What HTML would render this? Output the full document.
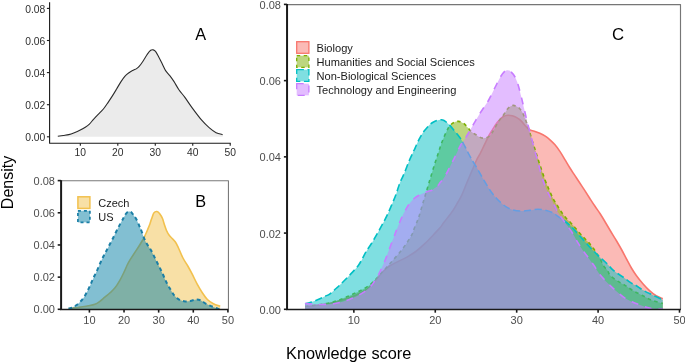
<!DOCTYPE html>
<html><head><meta charset="utf-8"><style>
html,body{margin:0;padding:0;background:#fff;width:685px;height:363px;overflow:hidden}
svg{display:block;will-change:transform;font-family:"Liberation Sans",sans-serif}
</style></head><body>
<svg width="685" height="363" viewBox="0 0 685 363">
<rect width="685" height="363" fill="#fff"/>
<path d="M57.80,136.30C58.72,136.17 61.47,135.78 63.30,135.50C65.13,135.22 66.97,135.07 68.80,134.60C70.63,134.13 72.47,133.42 74.30,132.70C76.13,131.98 77.97,131.22 79.80,130.30C81.63,129.38 83.70,128.23 85.30,127.20C86.90,126.17 88.03,125.42 89.40,124.10C90.77,122.78 92.12,120.85 93.50,119.30C94.88,117.75 96.05,116.52 97.70,114.80C99.35,113.08 101.63,111.12 103.40,109.00C105.17,106.88 106.80,104.28 108.30,102.10C109.80,99.92 111.02,98.08 112.40,95.90C113.78,93.72 115.22,91.30 116.60,89.00C117.98,86.70 119.33,84.22 120.70,82.10C122.07,79.98 123.42,77.87 124.80,76.30C126.18,74.73 127.62,73.70 129.00,72.70C130.38,71.70 131.83,70.98 133.10,70.30C134.37,69.62 135.52,69.33 136.60,68.60C137.68,67.87 138.48,67.22 139.60,65.90C140.72,64.58 142.00,62.67 143.30,60.70C144.60,58.73 146.17,55.83 147.40,54.10C148.63,52.37 149.73,51.00 150.70,50.30C151.67,49.60 152.37,49.68 153.20,49.90C154.03,50.12 154.73,50.35 155.70,51.60C156.67,52.85 157.90,55.33 159.00,57.40C160.10,59.47 161.20,61.80 162.30,64.00C163.40,66.20 164.35,68.67 165.60,70.60C166.85,72.53 168.42,73.80 169.80,75.60C171.18,77.40 172.38,79.05 173.90,81.40C175.42,83.75 177.10,87.08 178.90,89.70C180.70,92.32 182.52,94.12 184.70,97.10C186.88,100.08 189.17,103.75 192.00,107.60C194.83,111.45 198.80,116.82 201.70,120.20C204.60,123.58 207.00,125.82 209.40,127.90C211.80,129.98 213.90,131.58 216.10,132.70C218.30,133.82 221.52,134.28 222.60,134.60L222.60,136.80L57.80,136.80Z" fill="#EBEBEB" stroke="none"/>
<path d="M57.80,136.30C58.72,136.17 61.47,135.78 63.30,135.50C65.13,135.22 66.97,135.07 68.80,134.60C70.63,134.13 72.47,133.42 74.30,132.70C76.13,131.98 77.97,131.22 79.80,130.30C81.63,129.38 83.70,128.23 85.30,127.20C86.90,126.17 88.03,125.42 89.40,124.10C90.77,122.78 92.12,120.85 93.50,119.30C94.88,117.75 96.05,116.52 97.70,114.80C99.35,113.08 101.63,111.12 103.40,109.00C105.17,106.88 106.80,104.28 108.30,102.10C109.80,99.92 111.02,98.08 112.40,95.90C113.78,93.72 115.22,91.30 116.60,89.00C117.98,86.70 119.33,84.22 120.70,82.10C122.07,79.98 123.42,77.87 124.80,76.30C126.18,74.73 127.62,73.70 129.00,72.70C130.38,71.70 131.83,70.98 133.10,70.30C134.37,69.62 135.52,69.33 136.60,68.60C137.68,67.87 138.48,67.22 139.60,65.90C140.72,64.58 142.00,62.67 143.30,60.70C144.60,58.73 146.17,55.83 147.40,54.10C148.63,52.37 149.73,51.00 150.70,50.30C151.67,49.60 152.37,49.68 153.20,49.90C154.03,50.12 154.73,50.35 155.70,51.60C156.67,52.85 157.90,55.33 159.00,57.40C160.10,59.47 161.20,61.80 162.30,64.00C163.40,66.20 164.35,68.67 165.60,70.60C166.85,72.53 168.42,73.80 169.80,75.60C171.18,77.40 172.38,79.05 173.90,81.40C175.42,83.75 177.10,87.08 178.90,89.70C180.70,92.32 182.52,94.12 184.70,97.10C186.88,100.08 189.17,103.75 192.00,107.60C194.83,111.45 198.80,116.82 201.70,120.20C204.60,123.58 207.00,125.82 209.40,127.90C211.80,129.98 213.90,131.58 216.10,132.70C218.30,133.82 221.52,134.28 222.60,134.60" fill="none" stroke="#2b2b2b" stroke-width="1.1" stroke-linejoin="round"/>
<path d="M49.6,2.2V143.2H230.8" fill="none" stroke="#1a1a1a" stroke-width="1.1" stroke-linejoin="round"/>
<path d="M46.9,136.80H49.6" stroke="#1a1a1a" stroke-width="1.1"/>
<text x="45.3" y="141.40" text-anchor="end" font-size="10.3" fill="#2e2e2e">0.00</text>
<path d="M46.9,104.70H49.6" stroke="#1a1a1a" stroke-width="1.1"/>
<text x="45.3" y="109.30" text-anchor="end" font-size="10.3" fill="#2e2e2e">0.02</text>
<path d="M46.9,72.60H49.6" stroke="#1a1a1a" stroke-width="1.1"/>
<text x="45.3" y="77.20" text-anchor="end" font-size="10.3" fill="#2e2e2e">0.04</text>
<path d="M46.9,40.50H49.6" stroke="#1a1a1a" stroke-width="1.1"/>
<text x="45.3" y="45.10" text-anchor="end" font-size="10.3" fill="#2e2e2e">0.06</text>
<path d="M46.9,8.40H49.6" stroke="#1a1a1a" stroke-width="1.1"/>
<text x="45.3" y="13.00" text-anchor="end" font-size="10.3" fill="#2e2e2e">0.08</text>
<path d="M80.33,143.2V145.8" stroke="#1a1a1a" stroke-width="1.1"/>
<text x="80.33" y="155.6" text-anchor="middle" font-size="10.3" fill="#2e2e2e">10</text>
<path d="M117.80,143.2V145.8" stroke="#1a1a1a" stroke-width="1.1"/>
<text x="117.80" y="155.6" text-anchor="middle" font-size="10.3" fill="#2e2e2e">20</text>
<path d="M155.27,143.2V145.8" stroke="#1a1a1a" stroke-width="1.1"/>
<text x="155.27" y="155.6" text-anchor="middle" font-size="10.3" fill="#2e2e2e">30</text>
<path d="M192.74,143.2V145.8" stroke="#1a1a1a" stroke-width="1.1"/>
<text x="192.74" y="155.6" text-anchor="middle" font-size="10.3" fill="#2e2e2e">40</text>
<path d="M230.21,143.2V145.8" stroke="#1a1a1a" stroke-width="1.1"/>
<text x="230.21" y="155.6" text-anchor="middle" font-size="10.3" fill="#2e2e2e">50</text>
<text x="200.6" y="40.2" text-anchor="middle" font-size="16.3" fill="#000">A</text>
<path d="M68.90,308.60C70.08,308.47 74.15,308.05 76.00,307.80C77.85,307.55 77.95,307.43 80.00,307.10C82.05,306.77 85.82,306.27 88.30,305.80C90.78,305.33 92.97,305.05 94.90,304.30C96.83,303.55 98.25,302.48 99.90,301.30C101.55,300.12 103.15,298.58 104.80,297.20C106.45,295.82 108.13,294.52 109.80,293.00C111.47,291.48 113.15,290.17 114.80,288.10C116.45,286.03 118.18,283.22 119.70,280.60C121.22,277.98 122.65,275.00 123.90,272.40C125.15,269.80 126.18,267.08 127.20,265.00C128.22,262.92 128.95,261.65 130.00,259.90C131.05,258.15 132.38,256.22 133.50,254.50C134.62,252.78 135.62,251.27 136.70,249.60C137.78,247.93 138.85,246.35 140.00,244.50C141.15,242.65 142.68,240.17 143.60,238.50C144.52,236.83 144.83,235.97 145.50,234.50C146.17,233.03 146.87,231.45 147.60,229.70C148.33,227.95 149.23,225.82 149.90,224.00C150.57,222.18 150.93,220.65 151.60,218.80C152.27,216.95 153.02,214.12 153.90,212.90C154.78,211.68 155.90,211.33 156.90,211.50C157.90,211.67 158.97,212.73 159.90,213.90C160.83,215.07 161.78,216.82 162.50,218.50C163.22,220.18 163.53,222.00 164.20,224.00C164.87,226.00 165.70,228.67 166.50,230.50C167.30,232.33 168.08,233.70 169.00,235.00C169.92,236.30 170.97,237.17 172.00,238.30C173.03,239.43 174.20,240.38 175.20,241.80C176.20,243.22 176.75,244.18 178.00,246.80C179.25,249.42 181.07,254.30 182.70,257.50C184.33,260.70 186.23,263.27 187.80,266.00C189.37,268.73 190.53,270.88 192.10,273.90C193.67,276.92 195.50,280.97 197.20,284.10C198.90,287.23 200.60,290.13 202.30,292.70C204.00,295.27 205.55,297.65 207.40,299.50C209.25,301.35 211.27,302.67 213.40,303.80C215.53,304.93 219.07,305.88 220.20,306.30L220.20,309.30L68.90,309.30Z" fill="rgba(242,193,78,0.5)" stroke="none"/>
<path d="M68.90,308.60C70.08,308.47 74.15,308.05 76.00,307.80C77.85,307.55 77.95,307.43 80.00,307.10C82.05,306.77 85.82,306.27 88.30,305.80C90.78,305.33 92.97,305.05 94.90,304.30C96.83,303.55 98.25,302.48 99.90,301.30C101.55,300.12 103.15,298.58 104.80,297.20C106.45,295.82 108.13,294.52 109.80,293.00C111.47,291.48 113.15,290.17 114.80,288.10C116.45,286.03 118.18,283.22 119.70,280.60C121.22,277.98 122.65,275.00 123.90,272.40C125.15,269.80 126.18,267.08 127.20,265.00C128.22,262.92 128.95,261.65 130.00,259.90C131.05,258.15 132.38,256.22 133.50,254.50C134.62,252.78 135.62,251.27 136.70,249.60C137.78,247.93 138.85,246.35 140.00,244.50C141.15,242.65 142.68,240.17 143.60,238.50C144.52,236.83 144.83,235.97 145.50,234.50C146.17,233.03 146.87,231.45 147.60,229.70C148.33,227.95 149.23,225.82 149.90,224.00C150.57,222.18 150.93,220.65 151.60,218.80C152.27,216.95 153.02,214.12 153.90,212.90C154.78,211.68 155.90,211.33 156.90,211.50C157.90,211.67 158.97,212.73 159.90,213.90C160.83,215.07 161.78,216.82 162.50,218.50C163.22,220.18 163.53,222.00 164.20,224.00C164.87,226.00 165.70,228.67 166.50,230.50C167.30,232.33 168.08,233.70 169.00,235.00C169.92,236.30 170.97,237.17 172.00,238.30C173.03,239.43 174.20,240.38 175.20,241.80C176.20,243.22 176.75,244.18 178.00,246.80C179.25,249.42 181.07,254.30 182.70,257.50C184.33,260.70 186.23,263.27 187.80,266.00C189.37,268.73 190.53,270.88 192.10,273.90C193.67,276.92 195.50,280.97 197.20,284.10C198.90,287.23 200.60,290.13 202.30,292.70C204.00,295.27 205.55,297.65 207.40,299.50C209.25,301.35 211.27,302.67 213.40,303.80C215.53,304.93 219.07,305.88 220.20,306.30" fill="none" stroke="#F2C14E" stroke-width="1.6" stroke-linejoin="round"/>
<path d="M68.50,308.50C69.13,308.35 71.02,308.13 72.30,307.60C73.58,307.07 74.92,306.23 76.20,305.30C77.48,304.37 78.73,303.30 80.00,302.00C81.27,300.70 82.65,299.17 83.80,297.50C84.95,295.83 85.95,293.77 86.90,292.00C87.85,290.23 88.65,288.70 89.50,286.90C90.35,285.10 91.15,283.10 92.00,281.20C92.85,279.30 93.67,277.48 94.60,275.50C95.53,273.52 96.62,271.47 97.60,269.30C98.58,267.13 99.58,264.55 100.50,262.50C101.42,260.45 102.27,258.67 103.10,257.00C103.93,255.33 104.55,254.30 105.50,252.50C106.45,250.70 107.67,248.37 108.80,246.20C109.93,244.03 111.03,242.00 112.30,239.50C113.57,237.00 115.05,233.85 116.40,231.20C117.75,228.55 119.17,225.87 120.40,223.60C121.63,221.33 122.93,219.17 123.80,217.60C124.67,216.03 124.92,215.17 125.60,214.20C126.28,213.23 127.03,212.20 127.90,211.80C128.77,211.40 129.85,211.23 130.80,211.80C131.75,212.37 132.65,213.92 133.60,215.20C134.55,216.48 135.48,217.57 136.50,219.50C137.52,221.43 138.87,224.88 139.70,226.80C140.53,228.72 140.53,228.55 141.50,231.00C142.47,233.45 143.92,238.28 145.50,241.50C147.08,244.72 149.17,247.00 151.00,250.30C152.83,253.60 154.67,257.62 156.50,261.30C158.33,264.98 160.35,268.90 162.00,272.40C163.65,275.90 164.93,279.37 166.40,282.30C167.87,285.23 169.37,287.67 170.80,290.00C172.23,292.33 173.45,294.62 175.00,296.30C176.55,297.98 178.40,299.25 180.10,300.10C181.80,300.95 183.48,301.27 185.20,301.40C186.92,301.53 188.55,301.22 190.40,300.90C192.25,300.58 194.60,299.60 196.30,299.50C198.00,299.40 199.03,299.62 200.60,300.30C202.17,300.98 203.85,302.60 205.70,303.60C207.55,304.60 209.70,305.47 211.70,306.30C213.70,307.13 216.28,308.17 217.70,308.60C219.12,309.03 219.78,308.85 220.20,308.90L220.20,309.30L68.50,309.30Z" fill="rgba(5,128,165,0.5)" stroke="none"/>
<path d="M68.50,308.50C69.13,308.35 71.02,308.13 72.30,307.60C73.58,307.07 74.92,306.23 76.20,305.30C77.48,304.37 78.73,303.30 80.00,302.00C81.27,300.70 82.65,299.17 83.80,297.50C84.95,295.83 85.95,293.77 86.90,292.00C87.85,290.23 88.65,288.70 89.50,286.90C90.35,285.10 91.15,283.10 92.00,281.20C92.85,279.30 93.67,277.48 94.60,275.50C95.53,273.52 96.62,271.47 97.60,269.30C98.58,267.13 99.58,264.55 100.50,262.50C101.42,260.45 102.27,258.67 103.10,257.00C103.93,255.33 104.55,254.30 105.50,252.50C106.45,250.70 107.67,248.37 108.80,246.20C109.93,244.03 111.03,242.00 112.30,239.50C113.57,237.00 115.05,233.85 116.40,231.20C117.75,228.55 119.17,225.87 120.40,223.60C121.63,221.33 122.93,219.17 123.80,217.60C124.67,216.03 124.92,215.17 125.60,214.20C126.28,213.23 127.03,212.20 127.90,211.80C128.77,211.40 129.85,211.23 130.80,211.80C131.75,212.37 132.65,213.92 133.60,215.20C134.55,216.48 135.48,217.57 136.50,219.50C137.52,221.43 138.87,224.88 139.70,226.80C140.53,228.72 140.53,228.55 141.50,231.00C142.47,233.45 143.92,238.28 145.50,241.50C147.08,244.72 149.17,247.00 151.00,250.30C152.83,253.60 154.67,257.62 156.50,261.30C158.33,264.98 160.35,268.90 162.00,272.40C163.65,275.90 164.93,279.37 166.40,282.30C167.87,285.23 169.37,287.67 170.80,290.00C172.23,292.33 173.45,294.62 175.00,296.30C176.55,297.98 178.40,299.25 180.10,300.10C181.80,300.95 183.48,301.27 185.20,301.40C186.92,301.53 188.55,301.22 190.40,300.90C192.25,300.58 194.60,299.60 196.30,299.50C198.00,299.40 199.03,299.62 200.60,300.30C202.17,300.98 203.85,302.60 205.70,303.60C207.55,304.60 209.70,305.47 211.70,306.30C213.70,307.13 216.28,308.17 217.70,308.60C219.12,309.03 219.78,308.85 220.20,308.90" fill="none" stroke="#1B7FA6" stroke-width="2" stroke-dasharray="3.8,3.2" stroke-linejoin="round"/>
<path d="M61,180.8H228.45V309.3" fill="none" stroke="#7a7a7a" stroke-width="1.1" stroke-linejoin="round"/>
<path d="M61.1,180.2V309.4" fill="none" stroke="#1a1a1a" stroke-width="2"/>
<path d="M60.1,309.4H228.4" fill="none" stroke="#1a1a1a" stroke-width="1.45"/>
<path d="M57.7,309.30H61" stroke="#1a1a1a" stroke-width="1.6"/>
<text x="55" y="313.20" text-anchor="end" font-size="11" fill="#4d4d4d">0.00</text>
<path d="M57.7,277.13H61" stroke="#1a1a1a" stroke-width="1.6"/>
<text x="55" y="281.03" text-anchor="end" font-size="11" fill="#4d4d4d">0.02</text>
<path d="M57.7,244.96H61" stroke="#1a1a1a" stroke-width="1.6"/>
<text x="55" y="248.86" text-anchor="end" font-size="11" fill="#4d4d4d">0.04</text>
<path d="M57.7,212.79H61" stroke="#1a1a1a" stroke-width="1.6"/>
<text x="55" y="216.69" text-anchor="end" font-size="11" fill="#4d4d4d">0.06</text>
<path d="M57.7,180.62H61" stroke="#1a1a1a" stroke-width="1.6"/>
<text x="55" y="184.52" text-anchor="end" font-size="11" fill="#4d4d4d">0.08</text>
<path d="M89.40,309.3V312.6" stroke="#1a1a1a" stroke-width="1.6"/>
<text x="89.40" y="324" text-anchor="middle" font-size="11" fill="#4d4d4d">10</text>
<path d="M124.03,309.3V312.6" stroke="#1a1a1a" stroke-width="1.6"/>
<text x="124.03" y="324" text-anchor="middle" font-size="11" fill="#4d4d4d">20</text>
<path d="M158.66,309.3V312.6" stroke="#1a1a1a" stroke-width="1.6"/>
<text x="158.66" y="324" text-anchor="middle" font-size="11" fill="#4d4d4d">30</text>
<path d="M193.29,309.3V312.6" stroke="#1a1a1a" stroke-width="1.6"/>
<text x="193.29" y="324" text-anchor="middle" font-size="11" fill="#4d4d4d">40</text>
<path d="M227.92,309.3V312.6" stroke="#1a1a1a" stroke-width="1.6"/>
<text x="227.92" y="324" text-anchor="middle" font-size="11" fill="#4d4d4d">50</text>
<text x="200.8" y="206.8" text-anchor="middle" font-size="16.3" fill="#000">B</text>
<rect x="77.9" y="196.8" width="12" height="11.6" fill="rgba(242,193,78,0.5)" stroke="#F2C14E" stroke-width="1.5"/>
<rect x="77.9" y="210.8" width="12" height="11.6" fill="rgba(5,128,165,0.5)" stroke="#1B7FA6" stroke-width="1.7" stroke-dasharray="3,3"/>
<text x="98.3" y="206.5" font-size="11" fill="#1a1a1a">Czech</text>
<text x="98.3" y="221.2" font-size="11" fill="#1a1a1a">US</text>
<path d="M305.00,306.60C307.50,306.33 315.00,305.77 320.00,305.00C325.00,304.23 330.00,303.25 335.00,302.00C340.00,300.75 345.33,299.25 350.00,297.50C354.67,295.75 359.50,293.42 363.00,291.50C366.50,289.58 368.58,288.25 371.00,286.00C373.42,283.75 375.50,280.42 377.50,278.00C379.50,275.58 381.08,273.45 383.00,271.50C384.92,269.55 386.52,267.95 389.00,266.30C391.48,264.65 394.92,263.13 397.90,261.60C400.88,260.07 403.92,258.78 406.90,257.10C409.88,255.42 412.82,253.73 415.80,251.50C418.78,249.27 421.82,246.53 424.80,243.70C427.78,240.87 431.17,237.15 433.70,234.50C436.23,231.85 438.28,229.83 440.00,227.80C441.72,225.77 441.83,225.18 444.00,222.30C446.17,219.42 450.67,213.88 453.00,210.50C455.33,207.12 456.52,204.62 458.00,202.00C459.48,199.38 460.62,197.55 461.90,194.80C463.18,192.05 464.50,188.38 465.70,185.50C466.90,182.62 467.97,180.17 469.10,177.50C470.23,174.83 471.25,172.42 472.50,169.50C473.75,166.58 475.32,162.67 476.60,160.00C477.88,157.33 479.23,155.33 480.20,153.50C481.17,151.67 481.43,151.00 482.40,149.00C483.37,147.00 484.90,143.75 486.00,141.50C487.10,139.25 488.00,137.33 489.00,135.50C490.00,133.67 491.10,131.98 492.00,130.50C492.90,129.02 493.50,127.98 494.40,126.60C495.30,125.22 496.32,123.55 497.40,122.20C498.48,120.85 499.90,119.45 500.90,118.50C501.90,117.55 502.25,117.03 503.40,116.50C504.55,115.97 506.33,115.42 507.80,115.30C509.27,115.18 510.72,115.42 512.20,115.80C513.68,116.18 515.22,116.77 516.70,117.60C518.18,118.43 519.55,119.32 521.10,120.80C522.65,122.28 524.60,125.00 526.00,126.50C527.40,128.00 528.12,129.00 529.50,129.80C530.88,130.60 532.58,130.72 534.30,131.30C536.02,131.88 537.97,132.50 539.80,133.30C541.63,134.10 543.60,135.02 545.30,136.10C547.00,137.18 548.38,138.35 550.00,139.80C551.62,141.25 553.35,142.87 555.00,144.80C556.65,146.73 558.25,148.93 559.90,151.40C561.55,153.87 563.25,156.87 564.90,159.60C566.55,162.33 568.15,165.17 569.80,167.80C571.45,170.43 573.13,172.87 574.80,175.40C576.47,177.93 578.15,180.50 579.80,183.00C581.45,185.50 583.05,187.87 584.70,190.40C586.35,192.93 587.98,195.55 589.70,198.20C591.42,200.85 593.28,203.75 595.00,206.30C596.72,208.85 598.45,211.13 600.00,213.50C601.55,215.87 602.65,217.75 604.30,220.50C605.95,223.25 607.90,226.67 609.90,230.00C611.90,233.33 614.37,237.25 616.30,240.50C618.23,243.75 619.75,246.33 621.50,249.50C623.25,252.67 625.15,256.42 626.80,259.50C628.45,262.58 629.82,265.33 631.40,268.00C632.98,270.67 634.38,272.87 636.30,275.50C638.22,278.13 640.70,281.28 642.90,283.80C645.10,286.32 647.30,288.60 649.50,290.60C651.70,292.60 653.88,294.43 656.10,295.80C658.32,297.17 661.68,298.30 662.80,298.80L662.80,309.30L305.00,309.30Z" fill="rgba(248,118,109,0.5)" stroke="none"/>
<path d="M305.00,306.60C307.50,306.33 315.00,305.77 320.00,305.00C325.00,304.23 330.00,303.25 335.00,302.00C340.00,300.75 345.33,299.25 350.00,297.50C354.67,295.75 359.50,293.42 363.00,291.50C366.50,289.58 368.58,288.25 371.00,286.00C373.42,283.75 375.50,280.42 377.50,278.00C379.50,275.58 381.08,273.45 383.00,271.50C384.92,269.55 386.52,267.95 389.00,266.30C391.48,264.65 394.92,263.13 397.90,261.60C400.88,260.07 403.92,258.78 406.90,257.10C409.88,255.42 412.82,253.73 415.80,251.50C418.78,249.27 421.82,246.53 424.80,243.70C427.78,240.87 431.17,237.15 433.70,234.50C436.23,231.85 438.28,229.83 440.00,227.80C441.72,225.77 441.83,225.18 444.00,222.30C446.17,219.42 450.67,213.88 453.00,210.50C455.33,207.12 456.52,204.62 458.00,202.00C459.48,199.38 460.62,197.55 461.90,194.80C463.18,192.05 464.50,188.38 465.70,185.50C466.90,182.62 467.97,180.17 469.10,177.50C470.23,174.83 471.25,172.42 472.50,169.50C473.75,166.58 475.32,162.67 476.60,160.00C477.88,157.33 479.23,155.33 480.20,153.50C481.17,151.67 481.43,151.00 482.40,149.00C483.37,147.00 484.90,143.75 486.00,141.50C487.10,139.25 488.00,137.33 489.00,135.50C490.00,133.67 491.10,131.98 492.00,130.50C492.90,129.02 493.50,127.98 494.40,126.60C495.30,125.22 496.32,123.55 497.40,122.20C498.48,120.85 499.90,119.45 500.90,118.50C501.90,117.55 502.25,117.03 503.40,116.50C504.55,115.97 506.33,115.42 507.80,115.30C509.27,115.18 510.72,115.42 512.20,115.80C513.68,116.18 515.22,116.77 516.70,117.60C518.18,118.43 519.55,119.32 521.10,120.80C522.65,122.28 524.60,125.00 526.00,126.50C527.40,128.00 528.12,129.00 529.50,129.80C530.88,130.60 532.58,130.72 534.30,131.30C536.02,131.88 537.97,132.50 539.80,133.30C541.63,134.10 543.60,135.02 545.30,136.10C547.00,137.18 548.38,138.35 550.00,139.80C551.62,141.25 553.35,142.87 555.00,144.80C556.65,146.73 558.25,148.93 559.90,151.40C561.55,153.87 563.25,156.87 564.90,159.60C566.55,162.33 568.15,165.17 569.80,167.80C571.45,170.43 573.13,172.87 574.80,175.40C576.47,177.93 578.15,180.50 579.80,183.00C581.45,185.50 583.05,187.87 584.70,190.40C586.35,192.93 587.98,195.55 589.70,198.20C591.42,200.85 593.28,203.75 595.00,206.30C596.72,208.85 598.45,211.13 600.00,213.50C601.55,215.87 602.65,217.75 604.30,220.50C605.95,223.25 607.90,226.67 609.90,230.00C611.90,233.33 614.37,237.25 616.30,240.50C618.23,243.75 619.75,246.33 621.50,249.50C623.25,252.67 625.15,256.42 626.80,259.50C628.45,262.58 629.82,265.33 631.40,268.00C632.98,270.67 634.38,272.87 636.30,275.50C638.22,278.13 640.70,281.28 642.90,283.80C645.10,286.32 647.30,288.60 649.50,290.60C651.70,292.60 653.88,294.43 656.10,295.80C658.32,297.17 661.68,298.30 662.80,298.80" fill="none" stroke="#F8766D" stroke-width="1.6" stroke-linejoin="round"/>
<path d="M305.00,306.30C307.17,306.08 314.67,305.42 318.00,305.00C321.33,304.58 322.58,304.27 325.00,303.80C327.42,303.33 330.02,302.88 332.50,302.20C334.98,301.52 337.42,300.63 339.90,299.70C342.38,298.77 344.92,297.67 347.40,296.60C349.88,295.53 352.32,294.47 354.80,293.30C357.28,292.13 359.82,291.00 362.30,289.60C364.78,288.20 367.43,286.62 369.70,284.90C371.97,283.18 374.18,281.03 375.90,279.30C377.62,277.57 378.42,276.27 380.00,274.50C381.58,272.73 383.62,270.65 385.40,268.70C387.18,266.75 388.62,265.15 390.70,262.80C392.78,260.45 395.50,257.50 397.90,254.60C400.30,251.70 402.78,248.70 405.10,245.40C407.42,242.10 410.23,237.73 411.80,234.80C413.37,231.87 413.53,230.20 414.50,227.80C415.47,225.40 416.78,222.48 417.60,220.40C418.42,218.32 418.58,217.95 419.40,215.30C420.22,212.65 421.53,207.80 422.50,204.50C423.47,201.20 424.30,198.50 425.20,195.50C426.10,192.50 427.00,189.50 427.90,186.50C428.80,183.50 429.47,181.25 430.60,177.50C431.73,173.75 433.42,168.08 434.70,164.00C435.98,159.92 437.10,156.62 438.30,153.00C439.50,149.38 440.55,145.83 441.90,142.30C443.25,138.77 445.05,134.58 446.40,131.80C447.75,129.02 448.67,127.18 450.00,125.60C451.33,124.02 452.97,123.00 454.40,122.30C455.83,121.60 457.10,121.25 458.60,121.40C460.10,121.55 461.92,122.22 463.40,123.20C464.88,124.18 466.15,125.87 467.50,127.30C468.85,128.73 470.17,130.60 471.50,131.80C472.83,133.00 474.00,133.55 475.50,134.50C477.00,135.45 478.88,136.90 480.50,137.50C482.12,138.10 483.70,138.35 485.20,138.10C486.70,137.85 488.38,136.85 489.50,136.00C490.62,135.15 491.05,134.25 491.90,133.00C492.75,131.75 493.60,130.23 494.60,128.50C495.60,126.77 496.88,124.28 497.90,122.60C498.92,120.92 499.68,119.78 500.70,118.40C501.72,117.02 502.90,115.82 504.00,114.30C505.10,112.78 506.20,110.65 507.30,109.30C508.40,107.95 509.60,106.85 510.60,106.20C511.60,105.55 512.28,105.37 513.30,105.40C514.32,105.43 515.58,105.80 516.70,106.40C517.82,107.00 519.00,107.90 520.00,109.00C521.00,110.10 521.87,111.42 522.70,113.00C523.53,114.58 524.25,116.58 525.00,118.50C525.75,120.42 526.45,122.32 527.20,124.50C527.95,126.68 528.55,128.52 529.50,131.60C530.45,134.68 531.87,139.68 532.90,143.00C533.93,146.32 534.88,148.92 535.70,151.50C536.52,154.08 536.97,155.88 537.80,158.50C538.63,161.12 539.52,163.68 540.70,167.20C541.88,170.72 543.52,175.88 544.90,179.60C546.28,183.32 547.63,186.33 549.00,189.50C550.37,192.67 551.72,195.95 553.10,198.60C554.48,201.25 555.92,203.17 557.30,205.40C558.68,207.63 559.98,209.95 561.40,212.00C562.82,214.05 564.10,215.75 565.80,217.70C567.50,219.65 569.57,221.45 571.60,223.70C573.63,225.95 576.02,228.92 578.00,231.20C579.98,233.48 581.78,235.57 583.50,237.40C585.22,239.23 586.80,240.57 588.30,242.20C589.80,243.83 591.12,245.37 592.50,247.20C593.88,249.03 595.35,251.28 596.60,253.20C597.85,255.12 598.77,256.48 600.00,258.70C601.23,260.92 602.73,264.53 604.00,266.50C605.27,268.47 606.57,269.00 607.60,270.50C608.63,272.00 608.52,273.72 610.20,275.50C611.88,277.28 615.18,279.52 617.70,281.20C620.22,282.88 622.77,284.03 625.30,285.60C627.83,287.17 629.97,288.90 632.90,290.60C635.83,292.30 639.77,294.20 642.90,295.80C646.03,297.40 648.38,298.92 651.70,300.20C655.02,301.48 660.95,302.95 662.80,303.50L662.80,309.30L305.00,309.30Z" fill="rgba(124,174,0,0.5)" stroke="none"/>
<path d="M305.00,306.30C307.17,306.08 314.67,305.42 318.00,305.00C321.33,304.58 322.58,304.27 325.00,303.80C327.42,303.33 330.02,302.88 332.50,302.20C334.98,301.52 337.42,300.63 339.90,299.70C342.38,298.77 344.92,297.67 347.40,296.60C349.88,295.53 352.32,294.47 354.80,293.30C357.28,292.13 359.82,291.00 362.30,289.60C364.78,288.20 367.43,286.62 369.70,284.90C371.97,283.18 374.18,281.03 375.90,279.30C377.62,277.57 378.42,276.27 380.00,274.50C381.58,272.73 383.62,270.65 385.40,268.70C387.18,266.75 388.62,265.15 390.70,262.80C392.78,260.45 395.50,257.50 397.90,254.60C400.30,251.70 402.78,248.70 405.10,245.40C407.42,242.10 410.23,237.73 411.80,234.80C413.37,231.87 413.53,230.20 414.50,227.80C415.47,225.40 416.78,222.48 417.60,220.40C418.42,218.32 418.58,217.95 419.40,215.30C420.22,212.65 421.53,207.80 422.50,204.50C423.47,201.20 424.30,198.50 425.20,195.50C426.10,192.50 427.00,189.50 427.90,186.50C428.80,183.50 429.47,181.25 430.60,177.50C431.73,173.75 433.42,168.08 434.70,164.00C435.98,159.92 437.10,156.62 438.30,153.00C439.50,149.38 440.55,145.83 441.90,142.30C443.25,138.77 445.05,134.58 446.40,131.80C447.75,129.02 448.67,127.18 450.00,125.60C451.33,124.02 452.97,123.00 454.40,122.30C455.83,121.60 457.10,121.25 458.60,121.40C460.10,121.55 461.92,122.22 463.40,123.20C464.88,124.18 466.15,125.87 467.50,127.30C468.85,128.73 470.17,130.60 471.50,131.80C472.83,133.00 474.00,133.55 475.50,134.50C477.00,135.45 478.88,136.90 480.50,137.50C482.12,138.10 483.70,138.35 485.20,138.10C486.70,137.85 488.38,136.85 489.50,136.00C490.62,135.15 491.05,134.25 491.90,133.00C492.75,131.75 493.60,130.23 494.60,128.50C495.60,126.77 496.88,124.28 497.90,122.60C498.92,120.92 499.68,119.78 500.70,118.40C501.72,117.02 502.90,115.82 504.00,114.30C505.10,112.78 506.20,110.65 507.30,109.30C508.40,107.95 509.60,106.85 510.60,106.20C511.60,105.55 512.28,105.37 513.30,105.40C514.32,105.43 515.58,105.80 516.70,106.40C517.82,107.00 519.00,107.90 520.00,109.00C521.00,110.10 521.87,111.42 522.70,113.00C523.53,114.58 524.25,116.58 525.00,118.50C525.75,120.42 526.45,122.32 527.20,124.50C527.95,126.68 528.55,128.52 529.50,131.60C530.45,134.68 531.87,139.68 532.90,143.00C533.93,146.32 534.88,148.92 535.70,151.50C536.52,154.08 536.97,155.88 537.80,158.50C538.63,161.12 539.52,163.68 540.70,167.20C541.88,170.72 543.52,175.88 544.90,179.60C546.28,183.32 547.63,186.33 549.00,189.50C550.37,192.67 551.72,195.95 553.10,198.60C554.48,201.25 555.92,203.17 557.30,205.40C558.68,207.63 559.98,209.95 561.40,212.00C562.82,214.05 564.10,215.75 565.80,217.70C567.50,219.65 569.57,221.45 571.60,223.70C573.63,225.95 576.02,228.92 578.00,231.20C579.98,233.48 581.78,235.57 583.50,237.40C585.22,239.23 586.80,240.57 588.30,242.20C589.80,243.83 591.12,245.37 592.50,247.20C593.88,249.03 595.35,251.28 596.60,253.20C597.85,255.12 598.77,256.48 600.00,258.70C601.23,260.92 602.73,264.53 604.00,266.50C605.27,268.47 606.57,269.00 607.60,270.50C608.63,272.00 608.52,273.72 610.20,275.50C611.88,277.28 615.18,279.52 617.70,281.20C620.22,282.88 622.77,284.03 625.30,285.60C627.83,287.17 629.97,288.90 632.90,290.60C635.83,292.30 639.77,294.20 642.90,295.80C646.03,297.40 648.38,298.92 651.70,300.20C655.02,301.48 660.95,302.95 662.80,303.50" fill="none" stroke="#7CAE00" stroke-width="1.6" stroke-linejoin="round" stroke-dasharray="3.5,3.5"/>
<path d="M305.00,303.80C306.10,303.52 309.12,302.93 311.60,302.10C314.08,301.27 317.67,299.77 319.90,298.80C322.13,297.83 323.32,297.13 325.00,296.30C326.68,295.47 327.93,295.30 330.00,293.80C332.07,292.30 334.92,289.60 337.40,287.30C339.88,285.00 342.42,282.48 344.90,280.00C347.38,277.52 350.03,274.87 352.30,272.40C354.57,269.93 356.80,267.52 358.50,265.20C360.20,262.88 361.28,260.67 362.50,258.50C363.72,256.33 364.25,254.78 365.80,252.20C367.35,249.62 369.85,246.17 371.80,243.00C373.75,239.83 375.63,236.48 377.50,233.20C379.37,229.92 381.32,226.45 383.00,223.30C384.68,220.15 386.08,217.52 387.60,214.30C389.12,211.08 390.70,207.30 392.10,204.00C393.50,200.70 394.73,197.95 396.00,194.50C397.27,191.05 398.55,186.32 399.70,183.30C400.85,180.28 401.97,178.50 402.90,176.40C403.83,174.30 404.42,172.90 405.30,170.70C406.18,168.50 407.30,165.42 408.20,163.20C409.10,160.98 409.80,159.40 410.70,157.40C411.60,155.40 412.85,152.80 413.60,151.20C414.35,149.60 414.57,149.20 415.20,147.80C415.83,146.40 416.63,144.43 417.40,142.80C418.17,141.17 418.95,139.58 419.80,138.00C420.65,136.42 421.48,134.80 422.50,133.30C423.52,131.80 424.77,130.37 425.90,129.00C427.03,127.63 428.10,126.23 429.30,125.10C430.50,123.97 431.82,122.98 433.10,122.20C434.38,121.42 435.70,120.80 437.00,120.40C438.30,120.00 439.73,119.78 440.90,119.80C442.07,119.82 442.65,119.72 444.00,120.50C445.35,121.28 447.27,122.78 449.00,124.50C450.73,126.22 452.60,128.63 454.40,130.80C456.20,132.97 458.40,135.58 459.80,137.50C461.20,139.42 461.48,139.88 462.80,142.30C464.12,144.72 466.08,148.92 467.70,152.00C469.32,155.08 470.90,158.03 472.50,160.80C474.10,163.57 475.68,165.85 477.30,168.60C478.92,171.35 480.58,174.52 482.20,177.30C483.82,180.08 485.40,182.72 487.00,185.30C488.60,187.88 490.20,190.60 491.80,192.80C493.40,195.00 495.07,196.83 496.60,198.50C498.13,200.17 499.40,201.40 501.00,202.80C502.60,204.20 504.20,205.72 506.20,206.90C508.20,208.08 510.48,209.22 513.00,209.90C515.52,210.58 518.53,210.92 521.30,211.00C524.07,211.08 526.82,210.70 529.60,210.40C532.38,210.10 535.22,209.18 538.00,209.20C540.78,209.22 543.72,209.87 546.30,210.50C548.88,211.13 551.68,212.10 553.50,213.00C555.32,213.90 555.33,214.57 557.20,215.90C559.07,217.23 562.22,219.10 564.70,221.00C567.18,222.90 569.88,225.13 572.10,227.30C574.32,229.47 575.98,231.75 578.00,234.00C580.02,236.25 582.13,238.52 584.20,240.80C586.27,243.08 588.45,245.63 590.40,247.70C592.35,249.77 594.18,251.48 595.90,253.20C597.62,254.92 598.87,256.27 600.70,258.00C602.53,259.73 605.02,261.75 606.90,263.60C608.78,265.45 610.45,267.60 612.00,269.10C613.55,270.60 614.23,271.18 616.20,272.60C618.17,274.02 621.27,275.83 623.80,277.60C626.33,279.37 629.37,281.88 631.40,283.20C633.43,284.52 634.08,284.35 636.00,285.50C637.92,286.65 640.28,288.58 642.90,290.10C645.52,291.62 648.38,292.97 651.70,294.60C655.02,296.23 660.95,299.02 662.80,299.90L662.80,309.30L305.00,309.30Z" fill="rgba(0,191,196,0.5)" stroke="none"/>
<path d="M305.00,303.80C306.10,303.52 309.12,302.93 311.60,302.10C314.08,301.27 317.67,299.77 319.90,298.80C322.13,297.83 323.32,297.13 325.00,296.30C326.68,295.47 327.93,295.30 330.00,293.80C332.07,292.30 334.92,289.60 337.40,287.30C339.88,285.00 342.42,282.48 344.90,280.00C347.38,277.52 350.03,274.87 352.30,272.40C354.57,269.93 356.80,267.52 358.50,265.20C360.20,262.88 361.28,260.67 362.50,258.50C363.72,256.33 364.25,254.78 365.80,252.20C367.35,249.62 369.85,246.17 371.80,243.00C373.75,239.83 375.63,236.48 377.50,233.20C379.37,229.92 381.32,226.45 383.00,223.30C384.68,220.15 386.08,217.52 387.60,214.30C389.12,211.08 390.70,207.30 392.10,204.00C393.50,200.70 394.73,197.95 396.00,194.50C397.27,191.05 398.55,186.32 399.70,183.30C400.85,180.28 401.97,178.50 402.90,176.40C403.83,174.30 404.42,172.90 405.30,170.70C406.18,168.50 407.30,165.42 408.20,163.20C409.10,160.98 409.80,159.40 410.70,157.40C411.60,155.40 412.85,152.80 413.60,151.20C414.35,149.60 414.57,149.20 415.20,147.80C415.83,146.40 416.63,144.43 417.40,142.80C418.17,141.17 418.95,139.58 419.80,138.00C420.65,136.42 421.48,134.80 422.50,133.30C423.52,131.80 424.77,130.37 425.90,129.00C427.03,127.63 428.10,126.23 429.30,125.10C430.50,123.97 431.82,122.98 433.10,122.20C434.38,121.42 435.70,120.80 437.00,120.40C438.30,120.00 439.73,119.78 440.90,119.80C442.07,119.82 442.65,119.72 444.00,120.50C445.35,121.28 447.27,122.78 449.00,124.50C450.73,126.22 452.60,128.63 454.40,130.80C456.20,132.97 458.40,135.58 459.80,137.50C461.20,139.42 461.48,139.88 462.80,142.30C464.12,144.72 466.08,148.92 467.70,152.00C469.32,155.08 470.90,158.03 472.50,160.80C474.10,163.57 475.68,165.85 477.30,168.60C478.92,171.35 480.58,174.52 482.20,177.30C483.82,180.08 485.40,182.72 487.00,185.30C488.60,187.88 490.20,190.60 491.80,192.80C493.40,195.00 495.07,196.83 496.60,198.50C498.13,200.17 499.40,201.40 501.00,202.80C502.60,204.20 504.20,205.72 506.20,206.90C508.20,208.08 510.48,209.22 513.00,209.90C515.52,210.58 518.53,210.92 521.30,211.00C524.07,211.08 526.82,210.70 529.60,210.40C532.38,210.10 535.22,209.18 538.00,209.20C540.78,209.22 543.72,209.87 546.30,210.50C548.88,211.13 551.68,212.10 553.50,213.00C555.32,213.90 555.33,214.57 557.20,215.90C559.07,217.23 562.22,219.10 564.70,221.00C567.18,222.90 569.88,225.13 572.10,227.30C574.32,229.47 575.98,231.75 578.00,234.00C580.02,236.25 582.13,238.52 584.20,240.80C586.27,243.08 588.45,245.63 590.40,247.70C592.35,249.77 594.18,251.48 595.90,253.20C597.62,254.92 598.87,256.27 600.70,258.00C602.53,259.73 605.02,261.75 606.90,263.60C608.78,265.45 610.45,267.60 612.00,269.10C613.55,270.60 614.23,271.18 616.20,272.60C618.17,274.02 621.27,275.83 623.80,277.60C626.33,279.37 629.37,281.88 631.40,283.20C633.43,284.52 634.08,284.35 636.00,285.50C637.92,286.65 640.28,288.58 642.90,290.10C645.52,291.62 648.38,292.97 651.70,294.60C655.02,296.23 660.95,299.02 662.80,299.90" fill="none" stroke="#00BFC4" stroke-width="1.6" stroke-linejoin="round" stroke-dasharray="7.2,3.6"/>
<path d="M305.00,303.50C306.10,303.55 309.12,303.63 311.60,303.80C314.08,303.97 317.15,304.42 319.90,304.50C322.65,304.58 325.80,304.42 328.10,304.30C330.40,304.18 331.32,304.22 333.70,303.80C336.08,303.38 339.92,302.48 342.40,301.80C344.88,301.12 346.32,300.57 348.60,299.70C350.88,298.83 353.62,297.83 356.10,296.60C358.58,295.37 361.23,293.85 363.50,292.30C365.77,290.75 368.05,288.85 369.70,287.30C371.35,285.75 372.13,284.75 373.40,283.00C374.67,281.25 376.15,278.80 377.30,276.80C378.45,274.80 379.05,273.63 380.30,271.00C381.55,268.37 383.60,263.83 384.80,261.00C386.00,258.17 386.58,256.42 387.50,254.00C388.42,251.58 389.47,248.75 390.30,246.50C391.13,244.25 391.80,242.33 392.50,240.50C393.20,238.67 393.90,237.07 394.50,235.50C395.10,233.93 395.25,233.27 396.10,231.10C396.95,228.93 398.55,225.02 399.60,222.50C400.65,219.98 401.17,218.53 402.40,216.00C403.63,213.47 405.73,209.47 407.00,207.30C408.27,205.13 408.90,204.38 410.00,203.00C411.10,201.62 412.10,200.28 413.60,199.00C415.10,197.72 416.92,196.47 419.00,195.30C421.08,194.13 424.02,192.82 426.10,192.00C428.18,191.18 430.17,190.98 431.50,190.40C432.83,189.82 433.05,189.27 434.10,188.50C435.15,187.73 436.78,186.80 437.80,185.80C438.82,184.80 439.32,183.63 440.20,182.50C441.08,181.37 441.87,180.83 443.10,179.00C444.33,177.17 446.32,173.83 447.60,171.50C448.88,169.17 449.73,167.12 450.80,165.00C451.87,162.88 452.97,160.88 454.00,158.80C455.03,156.72 455.83,154.88 457.00,152.50C458.17,150.12 459.67,146.78 461.00,144.50C462.33,142.22 463.52,141.12 465.00,138.80C466.48,136.48 468.25,133.43 469.90,130.60C471.55,127.77 473.23,124.67 474.90,121.80C476.57,118.93 478.30,115.95 479.90,113.40C481.50,110.85 482.98,108.82 484.50,106.50C486.02,104.18 487.25,102.67 489.00,99.50C490.75,96.33 493.05,91.33 495.00,87.50C496.95,83.67 499.17,79.12 500.70,76.50C502.23,73.88 503.07,72.83 504.20,71.80C505.33,70.77 506.43,70.37 507.50,70.30C508.57,70.23 509.40,70.37 510.60,71.40C511.80,72.43 513.47,74.32 514.70,76.50C515.93,78.68 516.90,81.08 518.00,84.50C519.10,87.92 520.47,93.75 521.30,97.00C522.13,100.25 522.42,101.58 523.00,104.00C523.58,106.42 524.22,109.00 524.80,111.50C525.38,114.00 525.83,116.25 526.50,119.00C527.17,121.75 527.95,124.75 528.80,128.00C529.65,131.25 530.68,135.08 531.60,138.50C532.52,141.92 533.40,145.17 534.30,148.50C535.20,151.83 536.17,155.42 537.00,158.50C537.83,161.58 538.40,163.67 539.30,167.00C540.20,170.33 541.20,174.75 542.40,178.50C543.60,182.25 544.98,185.98 546.50,189.50C548.02,193.02 549.98,196.53 551.50,199.60C553.02,202.67 554.37,205.55 555.60,207.90C556.83,210.25 557.38,211.33 558.90,213.70C560.42,216.07 562.50,218.97 564.70,222.10C566.90,225.23 569.88,229.03 572.10,232.50C574.32,235.97 576.10,239.78 578.00,242.90C579.90,246.02 581.67,248.57 583.50,251.20C585.33,253.83 587.17,256.18 589.00,258.70C590.83,261.22 592.88,263.92 594.50,266.30C596.12,268.68 597.10,270.82 598.70,273.00C600.30,275.18 602.18,277.32 604.10,279.40C606.02,281.48 608.15,283.53 610.20,285.50C612.25,287.47 613.88,289.07 616.40,291.20C618.92,293.33 622.35,296.38 625.30,298.30C628.25,300.22 631.17,301.42 634.10,302.70C637.03,303.98 640.33,305.10 642.90,306.00C645.47,306.90 647.32,307.63 649.50,308.10C651.68,308.57 653.78,308.63 656.00,308.80C658.22,308.97 661.67,309.05 662.80,309.10L662.80,309.30L305.00,309.30Z" fill="rgba(199,124,255,0.5)" stroke="none"/>
<path d="M305.00,303.50C306.10,303.55 309.12,303.63 311.60,303.80C314.08,303.97 317.15,304.42 319.90,304.50C322.65,304.58 325.80,304.42 328.10,304.30C330.40,304.18 331.32,304.22 333.70,303.80C336.08,303.38 339.92,302.48 342.40,301.80C344.88,301.12 346.32,300.57 348.60,299.70C350.88,298.83 353.62,297.83 356.10,296.60C358.58,295.37 361.23,293.85 363.50,292.30C365.77,290.75 368.05,288.85 369.70,287.30C371.35,285.75 372.13,284.75 373.40,283.00C374.67,281.25 376.15,278.80 377.30,276.80C378.45,274.80 379.05,273.63 380.30,271.00C381.55,268.37 383.60,263.83 384.80,261.00C386.00,258.17 386.58,256.42 387.50,254.00C388.42,251.58 389.47,248.75 390.30,246.50C391.13,244.25 391.80,242.33 392.50,240.50C393.20,238.67 393.90,237.07 394.50,235.50C395.10,233.93 395.25,233.27 396.10,231.10C396.95,228.93 398.55,225.02 399.60,222.50C400.65,219.98 401.17,218.53 402.40,216.00C403.63,213.47 405.73,209.47 407.00,207.30C408.27,205.13 408.90,204.38 410.00,203.00C411.10,201.62 412.10,200.28 413.60,199.00C415.10,197.72 416.92,196.47 419.00,195.30C421.08,194.13 424.02,192.82 426.10,192.00C428.18,191.18 430.17,190.98 431.50,190.40C432.83,189.82 433.05,189.27 434.10,188.50C435.15,187.73 436.78,186.80 437.80,185.80C438.82,184.80 439.32,183.63 440.20,182.50C441.08,181.37 441.87,180.83 443.10,179.00C444.33,177.17 446.32,173.83 447.60,171.50C448.88,169.17 449.73,167.12 450.80,165.00C451.87,162.88 452.97,160.88 454.00,158.80C455.03,156.72 455.83,154.88 457.00,152.50C458.17,150.12 459.67,146.78 461.00,144.50C462.33,142.22 463.52,141.12 465.00,138.80C466.48,136.48 468.25,133.43 469.90,130.60C471.55,127.77 473.23,124.67 474.90,121.80C476.57,118.93 478.30,115.95 479.90,113.40C481.50,110.85 482.98,108.82 484.50,106.50C486.02,104.18 487.25,102.67 489.00,99.50C490.75,96.33 493.05,91.33 495.00,87.50C496.95,83.67 499.17,79.12 500.70,76.50C502.23,73.88 503.07,72.83 504.20,71.80C505.33,70.77 506.43,70.37 507.50,70.30C508.57,70.23 509.40,70.37 510.60,71.40C511.80,72.43 513.47,74.32 514.70,76.50C515.93,78.68 516.90,81.08 518.00,84.50C519.10,87.92 520.47,93.75 521.30,97.00C522.13,100.25 522.42,101.58 523.00,104.00C523.58,106.42 524.22,109.00 524.80,111.50C525.38,114.00 525.83,116.25 526.50,119.00C527.17,121.75 527.95,124.75 528.80,128.00C529.65,131.25 530.68,135.08 531.60,138.50C532.52,141.92 533.40,145.17 534.30,148.50C535.20,151.83 536.17,155.42 537.00,158.50C537.83,161.58 538.40,163.67 539.30,167.00C540.20,170.33 541.20,174.75 542.40,178.50C543.60,182.25 544.98,185.98 546.50,189.50C548.02,193.02 549.98,196.53 551.50,199.60C553.02,202.67 554.37,205.55 555.60,207.90C556.83,210.25 557.38,211.33 558.90,213.70C560.42,216.07 562.50,218.97 564.70,222.10C566.90,225.23 569.88,229.03 572.10,232.50C574.32,235.97 576.10,239.78 578.00,242.90C579.90,246.02 581.67,248.57 583.50,251.20C585.33,253.83 587.17,256.18 589.00,258.70C590.83,261.22 592.88,263.92 594.50,266.30C596.12,268.68 597.10,270.82 598.70,273.00C600.30,275.18 602.18,277.32 604.10,279.40C606.02,281.48 608.15,283.53 610.20,285.50C612.25,287.47 613.88,289.07 616.40,291.20C618.92,293.33 622.35,296.38 625.30,298.30C628.25,300.22 631.17,301.42 634.10,302.70C637.03,303.98 640.33,305.10 642.90,306.00C645.47,306.90 647.32,307.63 649.50,308.10C651.68,308.57 653.78,308.63 656.00,308.80C658.22,308.97 661.67,309.05 662.80,309.10" fill="none" stroke="#C77CFF" stroke-width="1.6" stroke-linejoin="round" stroke-dasharray="7,7"/>
<path d="M287.1,4.6H680.5V309.3" fill="none" stroke="#767676" stroke-width="1.15" stroke-linejoin="round"/>
<path d="M287.05,3.9V309.4" fill="none" stroke="#1a1a1a" stroke-width="2"/>
<path d="M286.05,309.4H680.9" fill="none" stroke="#1a1a1a" stroke-width="1.45"/>
<path d="M283.9,309.30H287.1" stroke="#1a1a1a" stroke-width="1.6"/>
<text x="281" y="313.80" text-anchor="end" font-size="11" fill="#4d4d4d">0.00</text>
<path d="M283.9,233.08H287.1" stroke="#1a1a1a" stroke-width="1.6"/>
<text x="281" y="237.58" text-anchor="end" font-size="11" fill="#4d4d4d">0.02</text>
<path d="M283.9,156.85H287.1" stroke="#1a1a1a" stroke-width="1.6"/>
<text x="281" y="161.35" text-anchor="end" font-size="11" fill="#4d4d4d">0.04</text>
<path d="M283.9,80.63H287.1" stroke="#1a1a1a" stroke-width="1.6"/>
<text x="281" y="85.13" text-anchor="end" font-size="11" fill="#4d4d4d">0.06</text>
<path d="M283.9,4.40H287.1" stroke="#1a1a1a" stroke-width="1.6"/>
<text x="281" y="8.90" text-anchor="end" font-size="11" fill="#4d4d4d">0.08</text>
<path d="M353.86,309.3V312.7" stroke="#1a1a1a" stroke-width="1.6"/>
<text x="353.86" y="323.8" text-anchor="middle" font-size="11" fill="#4d4d4d">10</text>
<path d="M435.27,309.3V312.7" stroke="#1a1a1a" stroke-width="1.6"/>
<text x="435.27" y="323.8" text-anchor="middle" font-size="11" fill="#4d4d4d">20</text>
<path d="M516.68,309.3V312.7" stroke="#1a1a1a" stroke-width="1.6"/>
<text x="516.68" y="323.8" text-anchor="middle" font-size="11" fill="#4d4d4d">30</text>
<path d="M598.09,309.3V312.7" stroke="#1a1a1a" stroke-width="1.6"/>
<text x="598.09" y="323.8" text-anchor="middle" font-size="11" fill="#4d4d4d">40</text>
<path d="M679.50,309.3V312.7" stroke="#1a1a1a" stroke-width="1.6"/>
<text x="679.50" y="323.8" text-anchor="middle" font-size="11" fill="#4d4d4d">50</text>
<text x="618.1" y="40.3" text-anchor="middle" font-size="16.8" fill="#000">C</text>
<rect x="296.7" y="41.70" width="12.2" height="11.6" fill="rgba(248,118,109,0.5)" stroke="#F8766D" stroke-width="1.3"/>
<text x="316.5" y="51.50" font-size="11.08" fill="#1a1a1a">Biology</text>
<rect x="296.7" y="55.70" width="12.2" height="11.6" fill="rgba(124,174,0,0.5)" stroke="#7CAE00" stroke-width="1.3" stroke-dasharray="3.5,3.5"/>
<text x="316.5" y="65.50" font-size="11.08" fill="#1a1a1a">Humanities and Social Sciences</text>
<rect x="296.7" y="69.70" width="12.2" height="11.6" fill="rgba(0,191,196,0.5)" stroke="#00BFC4" stroke-width="1.3" stroke-dasharray="7.2,3.6"/>
<text x="316.5" y="79.50" font-size="11.08" fill="#1a1a1a">Non-Biological Sciences</text>
<rect x="296.7" y="83.70" width="12.2" height="11.6" fill="rgba(199,124,255,0.5)" stroke="#C77CFF" stroke-width="1.3" stroke-dasharray="7,7"/>
<text x="316.5" y="93.50" font-size="11.08" fill="#1a1a1a">Technology and Engineering</text>
<text x="348.7" y="358.8" text-anchor="middle" font-size="16.33" fill="#000">Knowledge score</text>
<text transform="translate(13.2,182.5) rotate(-90)" text-anchor="middle" font-size="16" fill="#000">Density</text>
</svg>
</body></html>
